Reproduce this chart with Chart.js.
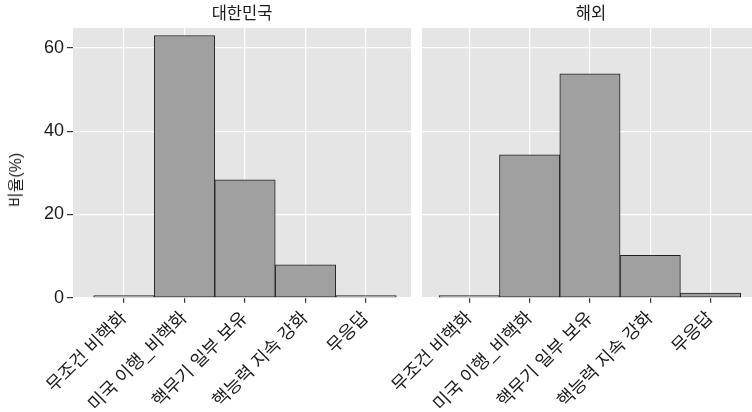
<!DOCTYPE html>
<html>
<head>
<meta charset="utf-8">
<script src="https://cdn.jsdelivr.net/npm/chart.js@4.4.1/dist/chart.umd.min.js"></script>
<style>
  html, body { margin: 0; padding: 0; background: #fff; width: 752px; height: 412px; overflow: hidden; }
  #wrap { position: relative; width: 752px; height: 412px; overflow: hidden; }
  canvas { position: absolute; top: 0; }
  #ylab {
    position: absolute; left: 14px; top: 180px;
    transform: translate(-50%, -50%) rotate(-90deg);
    font: 16px "Liberation Sans", "Noto Sans CJK KR", sans-serif; color: #1a1a1a;
    white-space: nowrap;
  }
</style>
</head>
<body>
<div id="wrap">
  <canvas id="left" width="412" height="412" style="left:0"></canvas>
  <canvas id="right" width="430" height="412" style="left:330px"></canvas>
  <div id="ylab">비율(%)</div>
</div>
<script>
// 데이터
const categories = ["무조건 비핵화", "미국 이행_비핵화", "핵무기 일부 보유", "핵능력 지속 강화", "무응답"];
const koreaValues = [0, 63.0, 28.3, 7.9, 0];
const overseasValues = [0, 34.3, 53.8, 10.2, 1.1];
const yTicks = [0, 20, 40, 60];
const panelTitles = ["대한민국", "해외"];

const FONT = '"Liberation Sans", "Noto Sans CJK KR", sans-serif';

// 패널 배경 + 패널 제목
const panelPlugin = {
  id: 'panel',
  beforeDraw(chart) {
    const a = chart.chartArea, ctx = chart.ctx;
    ctx.save();
    ctx.fillStyle = '#e5e5e5';
    ctx.fillRect(a.left, a.top, a.right - a.left, a.bottom - a.top);
    ctx.restore();
  },
  afterDraw(chart, args, opts) {
    const a = chart.chartArea, ctx = chart.ctx;
    ctx.save();
    ctx.font = '16.5px ' + FONT;
    ctx.fillStyle = '#1a1a1a';
    ctx.textAlign = 'center';
    ctx.textBaseline = 'middle';
    ctx.fillText(opts.text, (a.left + a.right) / 2, 14);
    ctx.restore();
  }
};

function makePanel(id, title, values, xMin, xMax, padLeft, showY) {
  const ctx = document.getElementById(id).getContext('2d');
  return new Chart(ctx, {
    type: 'bar',
    data: {
      datasets: [{
        data: categories.map((c, i) => ({ x: i + 1, y: values[i] })),
        backgroundColor: '#a0a0a0',
        borderColor: '#222',
        borderWidth: 1,
        borderSkipped: false,
        minBarLength: 2,
        barPercentage: 1,
        categoryPercentage: 1
      }]
    },
    options: {
      responsive: false,
      animation: false,
      layout: { padding: { left: padLeft, right: showY ? 1 : 0, top: 28, bottom: 0 } },
      plugins: { legend: { display: false }, tooltip: { enabled: false }, panel: { text: title } },
      scales: {
        x: {
          type: 'linear', min: xMin, max: xMax, offset: false,
          afterBuildTicks: s => { s.ticks = categories.map((c, i) => ({ value: i + 1 })); },
          afterFit: s => { s.height = 114.3; },
          ticks: {
            callback: v => categories[v - 1],
            autoSkip: false, maxRotation: 45, minRotation: 45,
            font: { size: 18, family: FONT }, color: '#1a1a1a', padding: 5
          },
          grid: { offset: false, color: '#ffffff', lineWidth: 1.2, tickColor: '#333', tickLength: 5 },
          border: { display: false }
        },
        y: {
          min: 0, max: 64.8,
          afterBuildTicks: s => { s.ticks = yTicks.map(v => ({ value: v })); },
          afterFit: s => { s.width = showY ? 73 : 0; },
          ticks: {
            display: showY, includeBounds: false,
            font: { size: 18, family: FONT }, color: '#1a1a1a', padding: 3
          },
          grid: { color: '#ffffff', lineWidth: 1.2, tickColor: '#333', tickLength: 6, drawTicks: showY },
          border: { display: false }
        }
      }
    },
    plugins: [panelPlugin]
  });
}

makePanel('left', panelTitles[0], koreaValues, 0.157, 5.744, 0, true);
makePanel('right', panelTitles[1], overseasValues, 0.215, 5.82, 92, false);
</script>
</body>
</html>
